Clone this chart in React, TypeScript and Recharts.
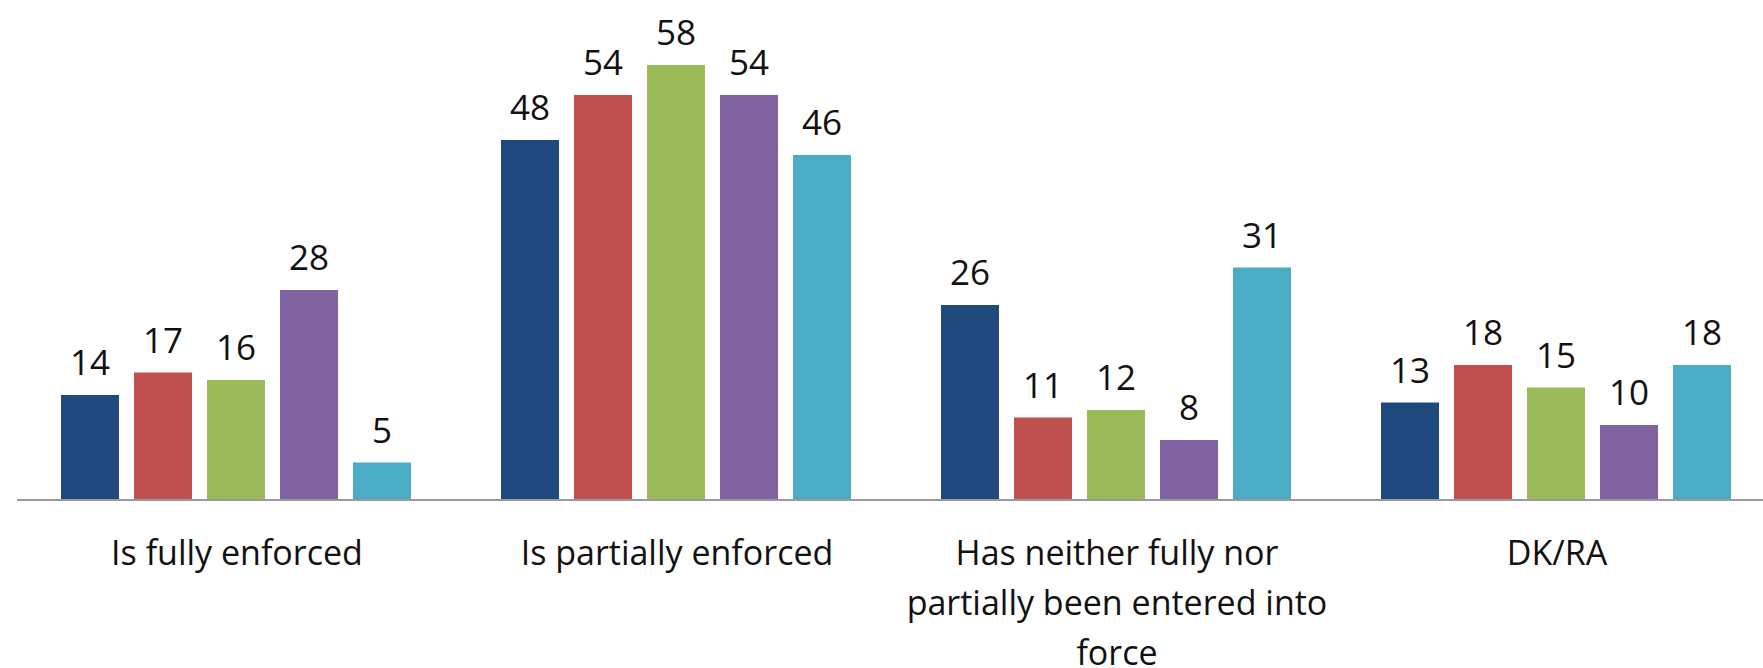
import { Bar, BarChart, LabelList, XAxis, YAxis } from 'recharts'

const categories = [
  'Is fully enforced',
  'Is partially enforced',
  'Has neither fully nor partially been entered into force',
  'DK/RA',
]

const seriesA = [14, 48, 26, 13]
const seriesB = [17, 54, 11, 18]
const seriesC = [16, 58, 12, 15]
const seriesD = [28, 54, 8, 10]
const seriesE = [5, 46, 31, 18]

const seriesKeys = ['a', 'b', 'c', 'd', 'e']
const seriesColors = ['#1f497d', '#c0504d', '#9bbb59', '#8064a2', '#4bacc6']

const chartData = categories.map((name, i) => ({
  name,
  a: seriesA[i],
  b: seriesB[i],
  c: seriesC[i],
  d: seriesD[i],
  e: seriesE[i],
}))

const FONT = '"Open Sans", "Noto Sans", sans-serif'

// wrap long category names roughly the way the original does
function wrapWords(text: string, maxChars: number) {
  const words = text.split(' ')
  const lines: string[] = []
  let current = ''
  words.forEach((w) => {
    const next = current ? current + ' ' + w : w
    if (next.length > maxChars && current) {
      lines.push(current)
      current = w
    } else {
      current = next
    }
  })
  if (current) lines.push(current)
  return lines
}

function CategoryTick(props: any) {
  const { x, y, payload } = props
  const lines = wrapWords(payload.value, 28)
  return (
    <text x={x} y={y} textAnchor="middle" fill="#111" fontSize={34} fontFamily={FONT}>
      {lines.map((line, i) => (
        <tspan key={i} x={x} dy={i === 0 ? 57 : 50}>
          {line}
        </tspan>
      ))}
    </text>
  )
}

export default function App() {
  return (
    <div
      style={{
        position: 'fixed',
        left: 0,
        top: 0,
        width: 1763,
        height: 668,
        overflow: 'hidden',
        background: '#fff',
      }}
    >
      <BarChart
        width={1777}
        height={668}
        data={chartData}
        margin={{ top: 50, right: 0, left: 17, bottom: 0 }}
        barCategoryGap={44}
        barGap={15}
      >
        <XAxis
          dataKey="name"
          height={168}
          interval={0}
          tickLine={false}
          axisLine={{ stroke: '#9a9a9a', strokeWidth: 2 }}
          tick={<CategoryTick />}
        />
        <YAxis hide domain={[0, 60]} />
        {seriesKeys.map((key, i) => (
          <Bar key={key} dataKey={key} fill={seriesColors[i]} isAnimationActive={false}>
            <LabelList
              dataKey={key}
              position="top"
              offset={20}
              fill="#111"
              fontSize={35}
              fontFamily={FONT}
            />
          </Bar>
        ))}
      </BarChart>
    </div>
  )
}
